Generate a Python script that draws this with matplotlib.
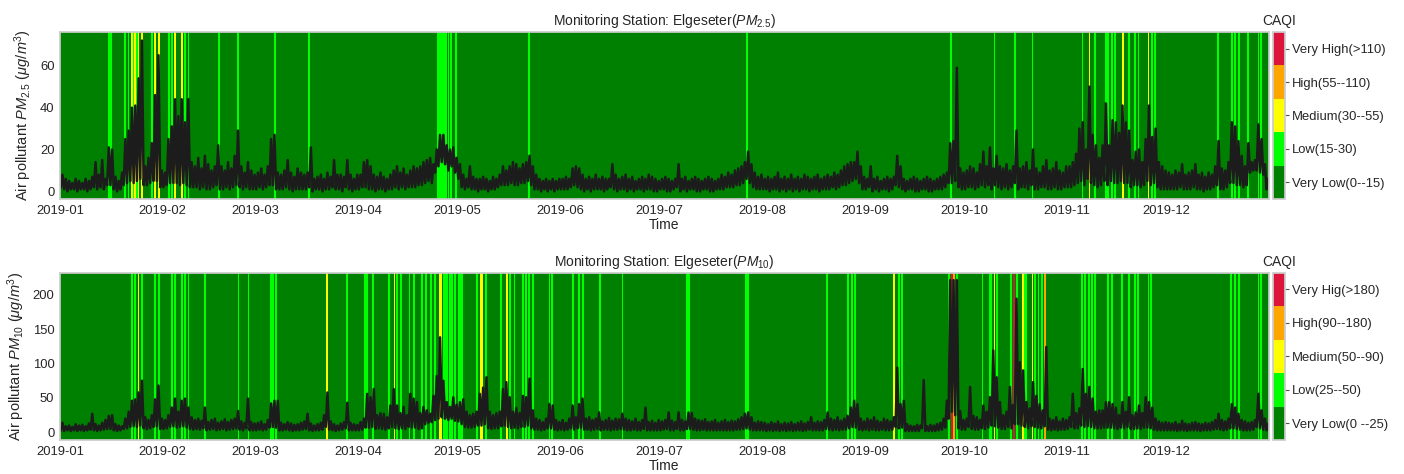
import numpy as np
import matplotlib
matplotlib.use("Agg")
import matplotlib.pyplot as plt
import matplotlib.dates as mdates
from matplotlib.colors import ListedColormap, BoundaryNorm
from matplotlib.cm import ScalarMappable

plt.rcParams.update({
    "font.family": ["Liberation Sans", "DejaVu Sans"],
    "mathtext.fontset": "custom",
    "mathtext.rm": "Liberation Sans",
    "mathtext.it": "Liberation Sans:italic",
    "text.color": "#262626",
    "axes.labelcolor": "#262626",
    "xtick.color": "#262626",
    "ytick.color": "#262626",
    "axes.edgecolor": "#cccccc",
    "axes.linewidth": 1.25,
})

# ── data: daily low / high readings through 2019 (one row per month) ─────────
pm25_high = [
    8, 6, 5, 4, 6, 5, 4, 6, 5, 7, 14, 8, 15, 6, 21, 20, 7, 5, 9, 25, 29, 40, 41, 54, 72, 12, 16, 23, 46, 65, 10,
    9, 25, 31, 44, 36, 44, 33, 44, 14, 12, 16, 11, 17, 13, 10, 12, 22, 12, 10, 14, 11, 17, 29, 12, 9, 14, 10, 8,
    9, 11, 8, 12, 25, 27, 9, 8, 10, 15, 9, 7, 11, 9, 8, 9, 21, 6, 7, 8, 6, 9, 7, 15, 8, 8, 7, 15, 8, 6, 8,
    8, 14, 15, 12, 8, 7, 9, 7, 6, 8, 10, 12, 9, 11, 8, 10, 12, 11, 12, 14, 15, 16, 13, 20, 27, 27, 22, 20, 21, 16,
    13, 8, 6, 12, 7, 6, 6, 7, 6, 5, 7, 6, 8, 12, 10, 12, 14, 13, 11, 13, 14, 17, 12, 8, 6, 5, 6, 5, 6, 5, 6,
    6, 7, 6, 11, 12, 11, 8, 6, 7, 6, 8, 6, 7, 6, 6, 13, 8, 6, 7, 8, 6, 7, 5, 6, 7, 6, 8, 7, 6, 5,
    6, 7, 6, 5, 6, 13, 6, 7, 5, 6, 7, 6, 5, 6, 7, 6, 5, 6, 8, 7, 9, 8, 10, 11, 12, 14, 19, 13, 9, 7, 8,
    6, 7, 6, 7, 9, 6, 7, 6, 8, 6, 7, 6, 8, 7, 6, 7, 8, 6, 7, 8, 7, 9, 8, 10, 12, 13, 14, 14, 19, 12, 7,
    6, 12, 6, 7, 5, 6, 7, 6, 7, 17, 12, 6, 5, 6, 7, 6, 5, 6, 7, 6, 5, 6, 7, 8, 9, 23, 24, 59, 11, 9,
    10, 12, 11, 9, 13, 19, 12, 21, 11, 17, 12, 11, 13, 10, 12, 29, 11, 12, 14, 10, 20, 11, 9, 12, 15, 10, 11, 14, 10, 9, 12,
    12, 14, 18, 30, 33, 20, 50, 27, 22, 16, 22, 42, 22, 34, 33, 28, 41, 33, 29, 15, 19, 20, 14, 25, 41, 26, 30, 14, 12, 10,
    9, 8, 10, 9, 13, 8, 9, 10, 13, 8, 9, 7, 9, 8, 12, 24, 11, 10, 14, 33, 31, 24, 17, 12, 23, 14, 15, 32, 25, 13, 6,
]
pm25_low = [
    2, 1, 0, 1, 1, 0, 1, 1, 0, 1, 2, 1, 2, 1, 3, 3, 1, 0, 1, 3, 4, 5, 4, 5, 6, 3, 3, 4, 5, 5, 2,
    2, 3, 4, 4, 4, 3, 4, 3, 2, 2, 2, 1, 2, 1, 1, 2, 3, 1, 1, 2, 1, 2, 3, 2, 1, 2, 1, 1,
    1, 2, 1, 2, 3, 3, 1, 1, 1, 2, 1, 0, 1, 1, 1, 1, 2, 0, 1, 1, 0, 1, 1, 2, 1, 1, 0, 2, 1, 0, 1,
    1, 2, 2, 1, 1, 0, 1, 1, 0, 1, 1, 2, 1, 2, 1, 2, 2, 2, 3, 3, 4, 5, 4, 9, 12, 14, 13, 10, 12, 9,
    6, 2, 1, 2, 1, 1, 0, 1, 1, 0, 1, 1, 2, 3, 3, 3, 4, 3, 3, 4, 4, 5, 3, 1, 1, 0, 1, 0, 1, 0, 1,
    1, 1, 1, 2, 3, 2, 1, 0, 1, 0, 1, 1, 1, 0, 1, 2, 1, 0, 1, 1, 0, 1, 0, 1, 1, 0, 1, 1, 0, 0,
    1, 1, 0, 0, 1, 2, 0, 1, 0, 1, 1, 0, 0, 1, 1, 0, 0, 1, 1, 1, 2, 2, 2, 3, 3, 4, 6, 4, 2, 1, 1,
    1, 1, 0, 1, 1, 0, 1, 0, 1, 0, 1, 0, 1, 1, 0, 1, 1, 0, 1, 1, 1, 2, 1, 2, 3, 3, 4, 5, 6, 4, 1,
    1, 2, 0, 1, 0, 1, 1, 0, 1, 3, 2, 1, 0, 1, 1, 0, 0, 1, 1, 0, 0, 1, 1, 1, 2, 4, 4, 5, 2, 1,
    1, 2, 2, 1, 2, 3, 2, 3, 1, 3, 2, 1, 2, 1, 2, 4, 1, 2, 2, 1, 3, 1, 1, 2, 2, 1, 1, 2, 1, 1, 2,
    2, 2, 3, 4, 5, 3, 6, 4, 3, 2, 3, 5, 3, 5, 4, 4, 5, 4, 4, 2, 3, 3, 2, 3, 5, 3, 4, 2, 1, 1,
    1, 1, 1, 1, 2, 1, 1, 1, 2, 1, 1, 0, 1, 1, 2, 3, 1, 1, 2, 4, 4, 3, 3, 2, 3, 9, 10, 10, 9, 8, 1,
]
pm10_high = [
    14, 9, 10, 8, 12, 10, 11, 9, 13, 27, 12, 10, 14, 18, 24, 25, 12, 10, 9, 20, 30, 46, 48, 58, 75, 22, 18, 25, 48, 68, 20,
    18, 25, 36, 49, 30, 46, 49, 36, 22, 18, 20, 17, 36, 15, 18, 20, 14, 16, 19, 15, 18, 20, 31, 16, 14, 49, 15, 13,
    14, 16, 12, 18, 42, 46, 46, 14, 12, 15, 13, 11, 12, 14, 16, 27, 13, 10, 12, 14, 25, 58, 16, 12, 10, 13, 15, 43, 14, 12, 11,
    15, 20, 56, 51, 63, 25, 28, 27, 22, 39, 63, 39, 28, 37, 25, 56, 49, 44, 28, 37, 32, 27, 53, 82, 138, 75, 44, 37, 51, 40,
    44, 48, 30, 25, 27, 30, 56, 65, 80, 30, 25, 28, 30, 63, 73, 51, 30, 36, 28, 53, 51, 78, 32, 20, 18, 15, 20, 41, 39, 18, 15,
    18, 14, 20, 39, 22, 41, 49, 20, 22, 18, 20, 29, 16, 18, 21, 17, 20, 19, 27, 20, 18, 16, 20, 15, 18, 36, 15, 17, 14, 18,
    16, 18, 29, 17, 15, 29, 18, 16, 29, 28, 20, 18, 17, 19, 15, 16, 18, 14, 16, 18, 15, 17, 16, 19, 22, 27, 29, 22, 14, 16, 15,
    14, 12, 15, 13, 16, 12, 14, 13, 15, 12, 14, 16, 13, 15, 22, 14, 16, 15, 18, 29, 20, 18, 22, 17, 20, 24, 36, 46, 41, 20, 16,
    20, 18, 22, 17, 15, 20, 18, 16, 22, 94, 41, 46, 12, 10, 9, 11, 10, 76, 9, 11, 10, 12, 14, 20, 46, 221, 221, 221, 31, 18,
    20, 66, 24, 22, 18, 39, 30, 51, 119, 80, 44, 25, 30, 66, 40, 194, 102, 90, 44, 35, 73, 53, 41, 32, 124, 20, 18, 22, 16, 20, 18,
    22, 56, 28, 35, 92, 56, 66, 49, 30, 32, 32, 44, 44, 41, 36, 25, 44, 30, 51, 25, 29, 39, 28, 51, 44, 36, 20, 16, 14, 15,
    14, 13, 15, 12, 17, 13, 12, 14, 15, 13, 12, 14, 13, 15, 18, 27, 18, 16, 20, 41, 36, 27, 18, 16, 14, 15, 18, 56, 32, 20, 12,
]
pm10_low = [
    3, 2, 3, 2, 3, 2, 3, 2, 3, 4, 3, 2, 3, 4, 5, 5, 3, 2, 3, 5, 6, 8, 9, 8, 10, 6, 5, 6, 8, 9, 5,
    5, 6, 8, 9, 7, 8, 9, 7, 5, 4, 5, 4, 6, 3, 4, 5, 3, 4, 5, 3, 4, 5, 6, 4, 3, 6, 3, 3,
    3, 4, 3, 4, 7, 8, 7, 3, 3, 4, 3, 2, 3, 3, 4, 5, 3, 2, 3, 3, 4, 8, 4, 3, 2, 3, 4, 6, 3, 3, 3,
    3, 4, 7, 7, 8, 5, 6, 5, 4, 6, 8, 6, 5, 6, 5, 8, 7, 7, 5, 6, 12, 14, 15, 18, 20, 22, 20, 18, 20, 17,
    16, 12, 8, 7, 7, 8, 10, 10, 12, 6, 5, 6, 6, 9, 10, 8, 6, 7, 6, 8, 8, 10, 6, 4, 4, 3, 4, 6, 6, 4, 3,
    4, 3, 4, 6, 4, 6, 7, 4, 4, 3, 4, 5, 3, 4, 4, 3, 4, 4, 5, 4, 3, 3, 4, 3, 3, 5, 3, 3, 3, 3,
    3, 4, 5, 3, 3, 5, 3, 3, 5, 5, 4, 3, 3, 4, 3, 3, 3, 3, 3, 3, 3, 3, 3, 4, 4, 5, 6, 4, 3, 3, 3,
    3, 2, 3, 2, 3, 2, 3, 2, 3, 2, 3, 3, 2, 3, 4, 3, 3, 3, 3, 5, 4, 3, 4, 3, 4, 4, 6, 8, 7, 4, 3,
    4, 3, 4, 3, 3, 4, 3, 3, 4, 8, 6, 7, 2, 2, 2, 2, 2, 6, 2, 2, 2, 2, 3, 4, 7, 20, 30, 25, 6, 4,
    4, 8, 5, 4, 4, 6, 5, 7, 10, 9, 7, 5, 5, 8, 6, 12, 12, 10, 8, 6, 9, 8, 7, 6, 9, 4, 3, 4, 3, 4, 4,
    5, 8, 6, 6, 10, 8, 9, 8, 6, 6, 6, 7, 7, 7, 6, 5, 7, 6, 8, 5, 5, 6, 5, 7, 7, 6, 4, 3, 3, 3,
    3, 3, 3, 2, 3, 3, 2, 3, 3, 3, 2, 3, 3, 3, 4, 5, 4, 3, 4, 6, 6, 5, 4, 3, 3, 3, 4, 8, 6, 4, 3,
]

# CAQI class stripes (day of year, class 1=Low .. 4=Very High); class 0 is the background
pm25_stripe_day = [14.7, 15.5, 19.7, 20.7, 22.2, 23.2, 27.9, 32.9, 33.8, 37.8, 38.8, 47.9, 53.7, 65.0, 75.1,
                   117.3, 118.1, 119.6, 141.7, 207.3, 269.1, 282.1, 288.2, 293.6, 308.7, 312.5, 315.8, 316.5,
                   317.6, 318.6, 322.6, 324.6, 325.6, 329.6, 330.6, 349.7, 353.8, 354.8, 355.8, 358.6, 361.8, 362.6,
                   21.7, 22.7, 23.7, 24.7, 28.8, 29.8, 34.8, 36.8, 310.8, 320.8, 328.6]
pm25_stripe_cat = [1] * 42 + [2] * 11
pm25_bands = [(113.8, 116.7, 1)]

pm10_stripe_day = [21.7, 22.7, 24.7, 28.8, 29.8, 33.8, 34.8, 36.8, 37.8, 38.8, 43.7, 53.9, 56.9, 63.6, 64.3,
                   65.1, 86.7, 92.0, 92.8, 94.5, 99.3, 101.8, 103.0, 105.5, 107.0, 109.3, 110.6, 112.1, 113.1,
                   125.8, 128.6, 133.1, 135.9, 137.2, 139.7, 140.7, 141.7, 142.9, 147.8, 148.6, 154.8, 156.8,
                   157.8, 162.9, 169.8, 189.2, 190.0, 207.0, 207.7, 231.5, 238.0, 239.0, 240.0, 253.4, 254.2,
                   268.5, 270.9, 278.5, 280.6, 281.1, 282.8, 287.1, 289.0, 294.4, 295.4, 296.4, 308.5, 309.5,
                   310.6, 311.5, 312.5, 316.5, 317.6, 320.6, 322.6, 324.6, 325.4, 328.6, 329.4, 353.6, 354.8,
                   355.8, 361.8, 362.6,
                   23.7, 80.5, 101.0, 134.9, 251.9, 282.1, 290.7, 293.6,
                   270.0, 297.4,
                   269.3, 288.1]
pm10_stripe_cat = [1] * 84 + [2] * 8 + [3] * 2 + [4] * 2
pm10_bands = [(114.3, 115.2, 2), (115.6, 117.0, 1), (117.5, 118.6, 1), (119.1, 119.6, 1),
              (120.1, 121.7, 1), (126.8, 127.7, 2), (290.9, 291.9, 1)]

caqi_colors = ["green", "lime", "yellow", "orange", "crimson"]
pm25_classes = ["Very Low(0--15)", "Low(15-30)", "Medium(30--55)", "High(55--110)", "Very High(>110)"]
pm10_classes = ["Very Low(0 --25)", "Low(25--50)", "Medium(50--90)", "High(90--180)", "Very Hig(>180)"]

cmap = ListedColormap(caqi_colors)
norm = BoundaryNorm(np.arange(6), cmap.N)
t0 = mdates.date2num(np.datetime64("2019-01-01T00:00"))


def panel(ax, cax, low, high, stripe_day, stripe_cat, bands, title, ylabel, classes, ylim):
    ax.set_facecolor(caqi_colors[0])
    for a, b, c in bands:
        ax.axvspan(t0 + a, t0 + b, color=caqi_colors[c], lw=0)
    for d, c in zip(stripe_day, stripe_cat):
        ax.axvspan(t0 + d - 0.28, t0 + d + 0.28, color=caqi_colors[c], lw=0)

    days = np.arange(len(high))
    t = np.column_stack([days + 0.25, days + 0.75]).ravel()
    v = np.column_stack([low, high]).ravel()
    ax.plot(t0 + t, v, color="#1c1c1c", lw=1.8)

    ax.set_xlim(t0, t0 + 364 + 23 / 24)
    ax.set_ylim(*ylim)
    ax.xaxis.set_major_locator(mdates.MonthLocator())
    ax.xaxis.set_major_formatter(mdates.DateFormatter("%Y-%m"))
    ax.tick_params(length=0, labelsize=9.4, pad=4)
    ax.set_title(title, fontsize=10, pad=5)
    ax.set_xlabel("Time", fontsize=10, labelpad=1)
    ax.set_ylabel(ylabel, fontsize=10.5, labelpad=4)

    cb = plt.colorbar(ScalarMappable(norm=norm, cmap=cmap), cax=cax,
                      ticks=np.arange(5) + 0.5)
    cb.minorticks_off()
    cb.ax.set_yticklabels(classes)
    cb.ax.tick_params(which="major", length=3, width=0.8, color="#555555", labelsize=9.4, pad=2)
    cb.ax.tick_params(which="minor", length=0)
    cb.outline.set_edgecolor("#cccccc")
    cb.outline.set_linewidth(1.25)
    cax.set_title("CAQI", fontsize=10, pad=5)


fig = plt.figure(figsize=(14.04, 4.74), dpi=100)
ax1 = fig.add_axes([0.0427, 0.5802, 0.8611, 0.3523])
cax1 = fig.add_axes([0.9067, 0.5802, 0.0086, 0.3523])
ax2 = fig.add_axes([0.0427, 0.0717, 0.8611, 0.3530])
cax2 = fig.add_axes([0.9067, 0.0717, 0.0086, 0.3530])

panel(ax1, cax1, pm25_low, pm25_high, pm25_stripe_day, pm25_stripe_cat, pm25_bands,
      r"Monitoring Station: Elgeseter($PM_{2.5}$)",
      r"Air pollutant $PM_{2.5}$ ($\mu g/m^3$)", pm25_classes, (-3.6, 76.1))
panel(ax2, cax2, pm10_low, pm10_high, pm10_stripe_day, pm10_stripe_cat, pm10_bands,
      r"Monitoring Station: Elgeseter($PM_{10}$)",
      r"Air pollutant $PM_{10}$ ($\mu g/m^3$)", pm10_classes, (-11, 231.8))

fig.savefig("out.png", dpi=100)
